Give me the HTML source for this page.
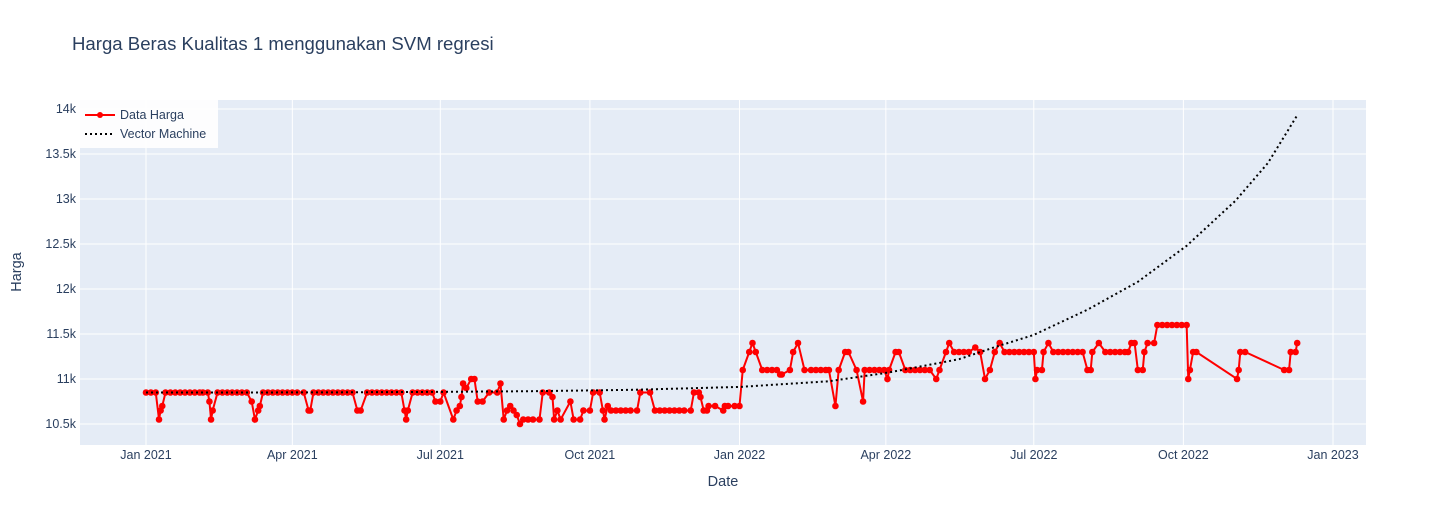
<!DOCTYPE html>
<html><head><meta charset="utf-8"><style>
body{margin:0;background:#fff;font-family:"Liberation Sans",Arial,sans-serif}
svg text{font-family:"Liberation Sans",Arial,sans-serif;fill:#2a3f5f}
</style></head><body>
<svg id="c" width="1446" height="525">
<text x="72" y="50" font-size="18.6">Harga Beras Kualitas 1 menggunakan SVM regresi</text>
<rect x="80" y="100" width="1286" height="345" fill="#e5ecf6"/>
<g id="grid"></g><g id="series"></g><g id="axes"></g>
<text x="723" y="486" font-size="14.5" text-anchor="middle">Date</text>
<text transform="translate(21,272) rotate(-90)" font-size="14.5" text-anchor="middle">Harga</text>
<g>
<rect x="80" y="100" width="138" height="48" fill="#fff" opacity="0.9"/>
<g><line x1="85" y1="115" x2="115" y2="115" stroke="red" stroke-width="2"/><circle cx="100" cy="115" r="3" fill="red"/><text x="120" y="119" font-size="12.5">Data Harga</text></g>
<g><line x1="85" y1="134" x2="115" y2="134" stroke="#000" stroke-width="2" stroke-dasharray="2,3"/><text x="120" y="138" font-size="12.5">Vector Machine</text></g>
</g>
</svg>
<script>
const dataDays=[
0,3,6,
8,9,10,
12,15,18,21,24,27,30,33,35,38,
39,40,41,
44,47,50,53,56,59,62,
65,67,69,70,
72,75,78,81,84,87,90,93,97,
100,101,
103,106,109,112,115,118,121,124,127,
130,132,
136,139,142,145,148,151,154,157,
159,160,161,
164,167,170,173,176,
178,181,
183,
189,191,193,194,195,197,200,202,204,207,
211,216,218,
220,222,224,226,228,230,232,235,238,242,
244,248,250,251,253,255,261,263,267,
269,273,275,279,
281,282,284,286,289,292,295,298,302,
304,310,
313,316,319,322,325,328,331,335,
337,340,
341,343,345,346,350,355,356,358,362,365,
367,371,373,375,
379,382,385,388,390,391,396,
398,401,405,
409,412,415,418,420,424,426,
430,432,437,441,442,445,448,451,454,
456,457,461,463,
467,470,473,476,479,482,486,488,
492,494,497,500,503,506,510,513,
516,519,522,525,528,
531,534,537,540,543,546,547,548,551,
552,555,558,561,564,567,570,573,576,
579,581,582,586,590,593,596,599,602,604,
606,608,610,613,614,616,620,
622,625,628,631,634,637,640,
641,642,644,646,671,672,673,676,
700,703,704,707,708];
const dataVals=[
10850,10850,10850,
10550,10650,10700,
10850,10850,10850,10850,10850,10850,10850,10850,10850,10850,
10750,10550,10650,
10850,10850,10850,10850,10850,10850,10850,
10750,10550,10650,10700,
10850,10850,10850,10850,10850,10850,10850,10850,10850,
10650,10650,
10850,10850,10850,10850,10850,10850,10850,10850,10850,
10650,10650,
10850,10850,10850,10850,10850,10850,10850,10850,
10650,10550,10650,
10850,10850,10850,10850,10850,
10750,10750,
10850,
10550,10650,10700,10800,10950,10900,11000,11000,10750,10750,
10850,10850,10950,
10550,10650,10700,10650,10600,10500,10550,10550,10550,10550,
10850,10850,10800,10550,10650,10550,10750,10550,10550,
10650,10650,10850,10850,
10650,10550,10700,10650,10650,10650,10650,10650,10650,
10850,10850,
10650,10650,10650,10650,10650,10650,10650,10650,
10850,10850,
10800,10650,10650,10700,10700,10650,10700,10700,10700,10700,
11100,11300,11400,11300,
11100,11100,11100,11100,11050,11050,11100,
11300,11400,11100,
11100,11100,11100,11100,11100,10700,11100,
11300,11300,11100,10750,11100,11100,11100,11100,11100,
11000,11100,11300,11300,
11100,11100,11100,11100,11100,11100,11000,11100,
11300,11400,11300,11300,11300,11300,11350,11300,
11000,11100,11300,11400,11300,
11300,11300,11300,11300,11300,11300,11000,11100,11100,
11300,11400,11300,11300,11300,11300,11300,11300,11300,
11100,11100,11300,11400,11300,11300,11300,11300,11300,11300,
11400,11400,11100,11100,11300,11400,11400,
11600,11600,11600,11600,11600,11600,11600,
11000,11100,11300,11300,11000,11100,11300,11300,
11100,11100,11300,11300,11400];
const svmDays=[0,60,120,180,240,300,365,420,456,500,523,546,579,610,640,670,690,708];
const svmVals=[10850,10850,10852,10857,10865,10880,10912,10975,11070,11220,11360,11490,11770,12080,12480,12980,13400,13930];
const yTicks=[10500,11000,11500,12000,12500,13000,13500,14000];
const yTickLabels=["10.5k","11k","11.5k","12k","12.5k","13k","13.5k","14k"];
const xTickDays=[0,90,181,273,365,455,546,638,730];
const xTickLabels=["Jan 2021","Apr 2021","Jul 2021","Oct 2021","Jan 2022","Apr 2022","Jul 2022","Oct 2022","Jan 2023"];
const NS="http://www.w3.org/2000/svg";
const X=d=>146+d*1.626, Y=v=>424-(v-10500)*0.09;
function mk(t,a,p){const e=document.createElementNS(NS,t);for(const k in a)e.setAttribute(k,a[k]);p.appendChild(e);return e;}
const g=document.getElementById('grid'),ax=document.getElementById('axes'),s=document.getElementById('series');
yTicks.forEach((v,i)=>{const l=mk('line',{x1:80,x2:1366,y1:Y(v),y2:Y(v),stroke:'#fff','stroke-width':1},g);


const t=mk('text',{x:76,y:Y(v)+4,'font-size':12.5,'text-anchor':'end'},ax);t.textContent=yTickLabels[i];

});
xTickDays.forEach((d,i)=>{const l=mk('line',{x1:X(d),x2:X(d),y1:100,y2:445,stroke:'#fff','stroke-width':1},g);


const t=mk('text',{x:X(d),y:459,'font-size':12.5,'text-anchor':'middle'},ax);t.textContent=xTickLabels[i];

});
const n=Math.min(dataDays.length,dataVals.length);
const dl=mk('polyline',{points:dataDays.slice(0,n).map((d,i)=>X(d)+','+Y(dataVals[i])).join(' '),fill:'none',stroke:'red','stroke-width':2},s);


dataDays.slice(0,n).forEach((d,i)=>{const c=mk('circle',{cx:X(d),cy:Y(dataVals[i]),r:3.3,fill:'red'},s);

});
const sl=mk('polyline',{points:svmDays.map((d,i)=>X(d)+','+Y(svmVals[i])).join(' '),fill:'none',stroke:'#000','stroke-width':2,'stroke-dasharray':'2,3'},s);


</script>
</body></html>
